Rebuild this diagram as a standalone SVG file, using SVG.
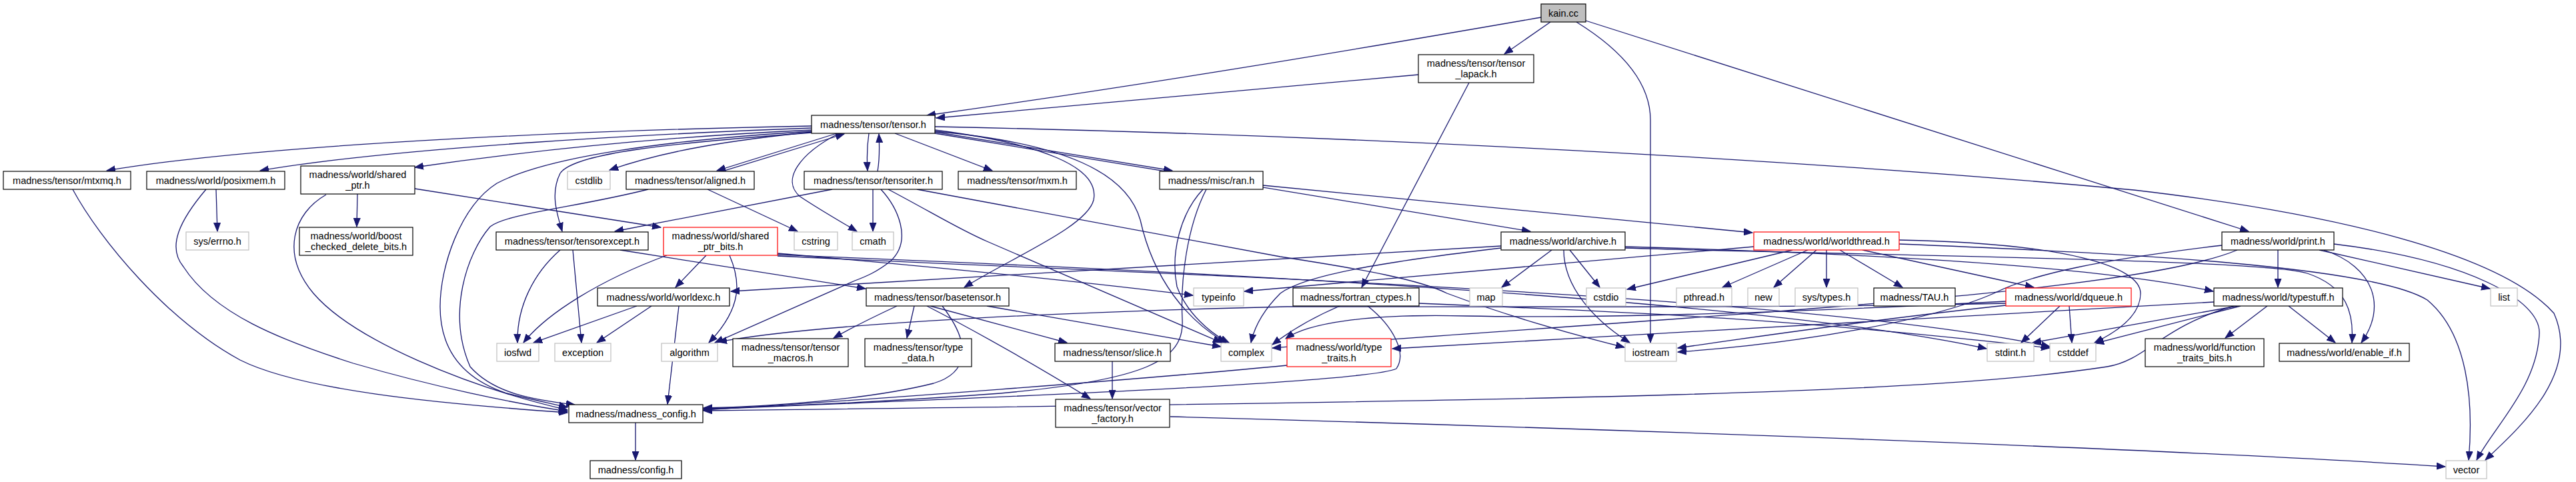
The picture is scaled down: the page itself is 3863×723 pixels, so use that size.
<svg xmlns="http://www.w3.org/2000/svg" width="3863" height="723" viewBox="0 0 3863 723">
<style>
rect{fill:#fff;stroke:#000;stroke-width:1.2}
.g rect{stroke:#bfbfbf}
.r rect{stroke:#ff0000}
.k rect{fill:#bfbfbf}
text{font-family:"Liberation Sans",Arial,sans-serif;font-size:14.5px;text-anchor:middle;fill:#000}
#edges path{fill:none;stroke:#191970;stroke-width:1.3;marker-end:url(#a)}
</style>
<defs>
<marker id="a" markerUnits="userSpaceOnUse" markerWidth="14" markerHeight="11" refX="13" refY="5" orient="auto" viewBox="0 0 14 10"><path d="M0,0 L13,5 L0,10 z" fill="#191970" stroke="#191970"/></marker>
</defs>
<rect x="0" y="0" width="3863" height="723" style="fill:#fff;stroke:none"/>
<g id="edges">
<path d="M2311,26 C2000,80 1700,130 1390,173"/>
<path d="M2325,33 L2256,81"/>
<path d="M2364,33 C2440,80 2475,130 2475,180 L2475,514"/>
<path d="M2378,31 L3372,347"/>
<path d="M2127,112 L1404,177"/>
<path d="M2203,124 L2042,431"/>
<path d="M1217,189 C900,195 400,215 160,256"/>
<path d="M1217,192 C1000,200 600,220 390,256"/>
<path d="M1217,195 C1000,205 800,225 622,251"/>
<path d="M1217,197 C1000,210 820,235 745,275 C690,310 660,400 660,460 C660,530 700,570 760,590 C800,600 830,606 851,611"/>
<path d="M1217,198 C1100,210 1000,225 914,255"/>
<path d="M1217,199 C1000,215 860,230 840,260 C825,290 835,320 843,347"/>
<path d="M1255,200 L1075,256"/>
<path d="M1083,257 L1266,201"/>
<path d="M1258,200 C1200,230 1170,270 1200,295 C1230,315 1265,335 1285,347"/>
<path d="M1303,200 C1300,220 1300,240 1301,256"/>
<path d="M1316,257 C1319,240 1319,220 1318,201"/>
<path d="M1342,200 L1488,256"/>
<path d="M1402,190 C1900,200 2600,230 3200,285 C3500,320 3750,380 3830,470 C3870,560 3780,640 3727,690"/>
<path d="M1402,195 C1560,215 1650,250 1640,300 C1630,340 1520,385 1446,431"/>
<path d="M1402,197 C1600,215 1690,260 1710,330 C1730,420 1780,480 1838,514"/>
<path d="M1402,198 L1758,256"/>
<path d="M1402,200 L2295,347"/>
<path d="M1894,278 L2628,349"/>
<path d="M1804,284 C1770,320 1755,380 1765,430 C1780,470 1815,500 1843,514"/>
<path d="M1809,284 C1780,340 1770,420 1773,480 C1776,540 1720,570 1500,590 C1300,605 1150,610 1055,613"/>
<path d="M1309,284 L1309,347"/>
<path d="M1321,284 C1345,310 1370,360 1335,392 C1315,408 1298,415 1282,421 L1072,514"/>
<path d="M1332,284 C1400,320 1440,345 1480,362 L1832,514"/>
<path d="M1375,284 L1920,385 C2050,405 2130,420 2170,440 C2250,470 2350,500 2436,521"/>
<path d="M1248,284 L922,347"/>
<path d="M1061,284 L1196,347"/>
<path d="M972,284 C870,310 760,320 735,340 C700,380 670,470 705,550 C740,590 800,600 862,607"/>
<path d="M622,283 L991,341"/>
<path d="M536,291 L535,340"/>
<path d="M489,292 C440,320 420,380 470,440 C530,510 700,580 851,615"/>
<path d="M324,284 L326,347"/>
<path d="M309,284 C270,330 250,370 275,400 C320,470 420,510 530,545 C650,580 770,605 851,617"/>
<path d="M109,284 C150,360 250,480 360,540 C450,585 650,605 851,619"/>
<path d="M840,375 C800,410 775,460 776,514"/>
<path d="M859,375 L872,514"/>
<path d="M930,375 L1298,433"/>
<path d="M1000,383 C900,420 820,470 785,514"/>
<path d="M1059,383 L1013,431"/>
<path d="M1094,383 C1110,420 1115,460 1063,514"/>
<path d="M1166,380 C1400,400 1600,420 1789,443"/>
<path d="M1166,382 C1600,400 2600,440 2979,523"/>
<path d="M1166,384 C1700,410 2700,440 3074,520"/>
<path d="M1018,459 L1001,606"/>
<path d="M955,459 L800,514"/>
<path d="M977,459 L895,514"/>
<path d="M953,633 L953,690"/>
<path d="M1345,459 C1300,480 1280,490 1250,507"/>
<path d="M1371,459 L1360,507"/>
<path d="M1395,459 L1600,514"/>
<path d="M1390,459 C1450,490 1540,540 1635,598"/>
<path d="M1413,459 C1460,520 1450,560 1400,575 C1300,600 1150,610 1055,612"/>
<path d="M1480,459 L1831,520"/>
<path d="M1668,542 L1668,598"/>
<path d="M1755,625 C2300,640 3200,670 3667,700"/>
<path d="M2251,369 L1096,437"/>
<path d="M2251,372 C2100,390 1960,410 1920,440 C1890,470 1880,495 1876,514"/>
<path d="M2327,375 L2252,431"/>
<path d="M2354,375 L2399,431"/>
<path d="M2345,375 C2345,430 2390,480 2444,514"/>
<path d="M2437,370 C2800,380 3150,400 3319,437"/>
<path d="M2437,372 C2900,385 3400,390 3460,410 C3520,430 3530,470 3527,514"/>
<path d="M2630,370 L1866,437"/>
<path d="M2688,375 L2440,434"/>
<path d="M2711,375 L2583,431"/>
<path d="M2724,375 L2660,431"/>
<path d="M2739,375 L2739,431"/>
<path d="M2759,375 L2853,431"/>
<path d="M2793,375 L3050,431"/>
<path d="M2848,360 C3100,365 3210,400 3210,440 C3210,475 3170,500 3141,514"/>
<path d="M2848,366 C3200,380 3560,400 3640,450 C3700,500 3710,600 3702,690"/>
<path d="M3089,459 L3031,514"/>
<path d="M3103,459 L3107,514"/>
<path d="M3008,455 C2700,462 2300,460 1930,460 C1500,470 1200,490 1077,513"/>
<path d="M3008,458 C2800,480 2600,510 2516,522"/>
<path d="M3008,452 C2700,468 2400,478 2200,474 C2050,470 1960,485 1928,508"/>
<path d="M3332,368 C3150,390 3050,410 2990,440 C2900,480 2700,515 2516,528"/>
<path d="M3355,375 C3200,440 2600,470 1908,522"/>
<path d="M3416,375 L3416,431"/>
<path d="M3478,375 L3734,433"/>
<path d="M3485,375 C3560,400 3580,460 3541,514"/>
<path d="M3500,366 C3700,390 3810,450 3808,500 C3805,580 3740,640 3714,690"/>
<path d="M3400,459 L3337,507"/>
<path d="M3432,459 L3502,514"/>
<path d="M3355,459 L3048,514"/>
<path d="M3360,459 L3142,515"/>
<path d="M3350,459 C3240,490 3220,540 3160,550 C2900,590 2400,600 1055,616"/>
<path d="M3320,453 L2088,523"/>
<path d="M2009,459 C1960,480 1930,500 1908,517"/>
<path d="M2051,459 C2090,490 2110,530 2094,553 C2050,575 1400,600 1055,614"/>
<path d="M1930,548 C1700,570 1300,600 1055,615"/>
<path d="M2128,455 C2500,470 2700,480 3074,522"/>
</g>
<g id="n_kain" class="k"><rect x="2311" y="6" width="67" height="27"/><text x="2344.5" y="25">kain.cc</text></g>
<g id="n_tensor_lapack"><rect x="2127" y="82" width="173" height="42"/><text x="2213.5" y="100">madness/tensor/tensor</text><text x="2213.5" y="116">_lapack.h</text></g>
<g id="n_tensor"><rect x="1217" y="173" width="185" height="27"/><text x="1309.5" y="192">madness/tensor/tensor.h</text></g>
<g id="n_mtxmq"><rect x="5" y="257" width="191" height="27"/><text x="100.5" y="276">madness/tensor/mtxmq.h</text></g>
<g id="n_posixmem"><rect x="220" y="257" width="207" height="27"/><text x="323.5" y="276">madness/world/posixmem.h</text></g>
<g id="n_shared_ptr"><rect x="451" y="249" width="171" height="42"/><text x="536.5" y="267">madness/world/shared</text><text x="536.5" y="283">_ptr.h</text></g>
<g id="n_cstdlib" class="g"><rect x="851" y="257" width="64" height="27"/><text x="883" y="276">cstdlib</text></g>
<g id="n_aligned"><rect x="939" y="257" width="192" height="27"/><text x="1035" y="276">madness/tensor/aligned.h</text></g>
<g id="n_tensoriter"><rect x="1206" y="257" width="207" height="27"/><text x="1309.5" y="276">madness/tensor/tensoriter.h</text></g>
<g id="n_mxm"><rect x="1437" y="257" width="177" height="27"/><text x="1525.5" y="276">madness/tensor/mxm.h</text></g>
<g id="n_ran"><rect x="1739" y="257" width="155" height="27"/><text x="1816.5" y="276">madness/misc/ran.h</text></g>
<g id="n_errno" class="g"><rect x="279" y="348" width="94" height="27"/><text x="326" y="367">sys/errno.h</text></g>
<g id="n_boost"><rect x="449" y="341" width="170" height="42"/><text x="534" y="359">madness/world/boost</text><text x="534" y="375">_checked_delete_bits.h</text></g>
<g id="n_tensorexcept"><rect x="744" y="348" width="228" height="27"/><text x="858" y="367">madness/tensor/tensorexcept.h</text></g>
<g id="n_shared_ptr_bits" class="r"><rect x="995" y="341" width="171" height="42"/><text x="1080.5" y="359">madness/world/shared</text><text x="1080.5" y="375">_ptr_bits.h</text></g>
<g id="n_cstring" class="g"><rect x="1191" y="348" width="65" height="27"/><text x="1223.5" y="367">cstring</text></g>
<g id="n_cmath" class="g"><rect x="1278" y="348" width="62" height="27"/><text x="1309" y="367">cmath</text></g>
<g id="n_archive"><rect x="2251" y="348" width="186" height="27"/><text x="2344" y="367">madness/world/archive.h</text></g>
<g id="n_worldthread" class="r"><rect x="2630" y="348" width="218" height="27"/><text x="2739" y="367">madness/world/worldthread.h</text></g>
<g id="n_print"><rect x="3332" y="348" width="168" height="27"/><text x="3416" y="367">madness/world/print.h</text></g>
<g id="n_worldexc"><rect x="896" y="432" width="198" height="27"/><text x="995" y="451">madness/world/worldexc.h</text></g>
<g id="n_basetensor"><rect x="1299" y="432" width="214" height="27"/><text x="1406" y="451">madness/tensor/basetensor.h</text></g>
<g id="n_typeinfo" class="g"><rect x="1790" y="432" width="75" height="27"/><text x="1827.5" y="451">typeinfo</text></g>
<g id="n_fortran"><rect x="1939" y="432" width="189" height="27"/><text x="2033.5" y="451">madness/fortran_ctypes.h</text></g>
<g id="n_map" class="g"><rect x="2204" y="432" width="49" height="27"/><text x="2228.5" y="451">map</text></g>
<g id="n_cstdio" class="g"><rect x="2379" y="432" width="59" height="27"/><text x="2408.5" y="451">cstdio</text></g>
<g id="n_pthread" class="g"><rect x="2514" y="432" width="83" height="27"/><text x="2555.5" y="451">pthread.h</text></g>
<g id="n_new" class="g"><rect x="2621" y="432" width="47" height="27"/><text x="2644.5" y="451">new</text></g>
<g id="n_systypes" class="g"><rect x="2692" y="432" width="94" height="27"/><text x="2739" y="451">sys/types.h</text></g>
<g id="n_tau"><rect x="2810" y="432" width="122" height="27"/><text x="2871" y="451">madness/TAU.h</text></g>
<g id="n_dqueue" class="r"><rect x="3008" y="432" width="188" height="27"/><text x="3102" y="451">madness/world/dqueue.h</text></g>
<g id="n_typestuff"><rect x="3320" y="432" width="193" height="27"/><text x="3416.5" y="451">madness/world/typestuff.h</text></g>
<g id="n_list" class="g"><rect x="3735" y="432" width="40" height="27"/><text x="3755" y="451">list</text></g>
<g id="n_iosfwd" class="g"><rect x="745" y="515" width="63" height="27"/><text x="776.5" y="534">iosfwd</text></g>
<g id="n_exception" class="g"><rect x="832" y="515" width="84" height="27"/><text x="874" y="534">exception</text></g>
<g id="n_algorithm" class="g"><rect x="992" y="515" width="84" height="27"/><text x="1034" y="534">algorithm</text></g>
<g id="n_tensor_macros"><rect x="1099" y="508" width="173" height="42"/><text x="1185.5" y="526">madness/tensor/tensor</text><text x="1185.5" y="542">_macros.h</text></g>
<g id="n_type_data"><rect x="1297" y="508" width="160" height="42"/><text x="1377" y="526">madness/tensor/type</text><text x="1377" y="542">_data.h</text></g>
<g id="n_slice"><rect x="1582" y="515" width="173" height="27"/><text x="1668.5" y="534">madness/tensor/slice.h</text></g>
<g id="n_complex" class="g"><rect x="1831" y="515" width="76" height="27"/><text x="1869" y="534">complex</text></g>
<g id="n_type_traits" class="r"><rect x="1930" y="508" width="156" height="42"/><text x="2008" y="526">madness/world/type</text><text x="2008" y="542">_traits.h</text></g>
<g id="n_iostream" class="g"><rect x="2437" y="515" width="77" height="27"/><text x="2475.5" y="534">iostream</text></g>
<g id="n_stdint" class="g"><rect x="2980" y="515" width="70" height="27"/><text x="3015" y="534">stdint.h</text></g>
<g id="n_cstddef" class="g"><rect x="3074" y="515" width="69" height="27"/><text x="3108.5" y="534">cstddef</text></g>
<g id="n_function_traits"><rect x="3217" y="508" width="178" height="42"/><text x="3306" y="526">madness/world/function</text><text x="3306" y="542">_traits_bits.h</text></g>
<g id="n_enable_if"><rect x="3418" y="515" width="195" height="27"/><text x="3515.5" y="534">madness/world/enable_if.h</text></g>
<g id="n_madness_config"><rect x="853" y="607" width="201" height="27"/><text x="953.5" y="626">madness/madness_config.h</text></g>
<g id="n_vector_factory"><rect x="1583" y="599" width="171" height="42"/><text x="1668.5" y="617">madness/tensor/vector</text><text x="1668.5" y="633">_factory.h</text></g>
<g id="n_config"><rect x="885" y="691" width="137" height="27"/><text x="953.5" y="710">madness/config.h</text></g>
<g id="n_vector" class="g"><rect x="3668" y="691" width="61" height="27"/><text x="3698.5" y="710">vector</text></g>
</svg>
